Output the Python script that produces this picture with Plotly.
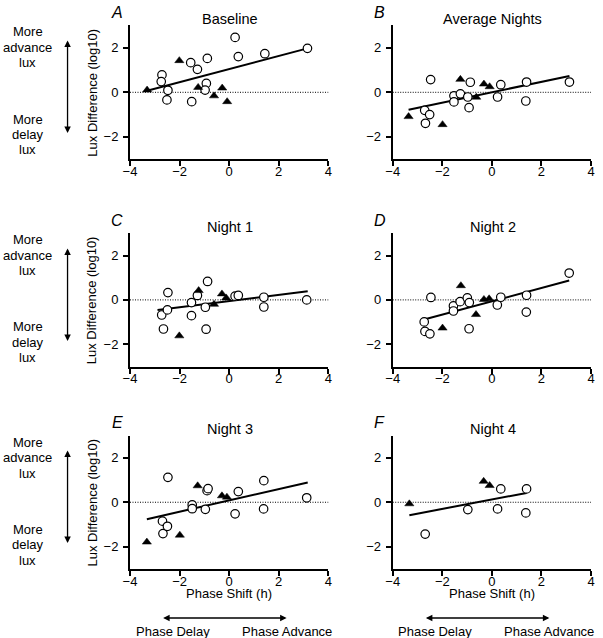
import plotly.graph_objects as go

# ---------------- data ----------------
panel_titles = ["Baseline", "Average Nights", "Night 1", "Night 2", "Night 3", "Night 4"]
panel_letters = ["A", "B", "C", "D", "E", "F"]

x_ticks = [-4, -2, 0, 2, 4]
y_ticks = [-2, 0, 2]

# Panel A - Baseline
a_circ_x = [-2.71, -2.74, -2.47, -2.51, -1.55, -1.28, -1.51, -0.88, -0.92, -0.97, 0.24, 0.37, 1.44, 3.16]
a_circ_y = [0.78, 0.48, 0.09, -0.34, 1.33, 1.03, -0.42, 1.52, 0.40, 0.10, 2.46, 1.60, 1.73, 1.97]
a_tri_x = [-3.31, -2.01, -1.25, -0.61, -0.28, -0.08]
a_tri_y = [0.10, 1.42, 0.22, -0.16, 0.19, -0.42]
a_fit_x = [-3.31, 3.16]
a_fit_y = [0.07, 1.97]

# Panel B - Average Nights
b_circ_x = [-2.47, -2.71, -2.51, -2.68, -1.53, -1.53, -1.27, -0.87, -0.97, -0.92, 0.23, 0.36, 1.40, 1.37, 3.13]
b_circ_y = [0.57, -0.81, -1.00, -1.39, -0.16, -0.43, -0.07, 0.45, -0.21, -0.69, -0.21, 0.34, 0.46, -0.39, 0.46]
b_tri_x = [-3.36, -1.99, -1.27, -0.63, -0.32, -0.09]
b_tri_y = [-1.09, -1.45, 0.58, -0.22, 0.37, 0.25]
b_fit_x = [-3.36, 3.13]
b_fit_y = [-0.78, 0.73]

# Panel C - Night 1
c_circ_x = [-2.72, -2.65, -2.49, -2.47, -1.52, -1.52, -1.28, -0.96, -0.93, -0.87, 0.24, 0.37, 1.40, 1.40, 3.13]
c_circ_y = [-0.68, -1.31, -0.45, 0.33, -0.12, -0.71, 0.20, -0.33, -1.32, 0.83, 0.17, 0.20, 0.12, -0.32, 0.00]
c_tri_x = [-2.01, -1.23, -0.61, -0.29, -0.12]
c_tri_y = [-1.62, 0.42, -0.20, 0.27, 0.09]
c_fit_x = [-2.89, 3.17]
c_fit_y = [-0.45, 0.39]

# Panel D - Night 2
d_circ_x = [-2.73, -2.70, -2.50, -2.46, -1.55, -1.55, -1.28, -0.99, -0.91, -0.92, 0.22, 0.36, 1.40, 1.39, 3.12]
d_circ_y = [-0.99, -1.42, -1.53, 0.11, -0.27, -0.50, -0.08, 0.09, -0.12, -1.30, -0.23, 0.12, 0.21, -0.55, 1.21]
d_tri_x = [-1.99, -1.25, -0.64, -0.32, -0.11]
d_tri_y = [-1.27, 0.64, -0.66, 0.02, 0.05]
d_fit_x = [-2.70, 3.12]
d_fit_y = [-0.87, 0.87]

# Panel E - Night 3
e_circ_x = [-2.69, -2.67, -2.49, -2.47, -1.49, -1.49, -0.96, -0.89, -0.85, 0.24, 0.37, 1.40, 1.39, 3.13]
e_circ_y = [-0.85, -1.41, -1.08, 1.12, -0.12, -0.29, -0.32, 0.52, 0.61, -0.52, 0.48, 0.97, -0.30, 0.20]
e_tri_x = [-3.32, -1.99, -1.27, -0.29, -0.09]
e_tri_y = [-1.79, -1.48, 0.74, 0.29, 0.23]
e_fit_x = [-3.32, 3.17]
e_fit_y = [-0.76, 0.89]

# Panel F - Night 4
f_circ_x = [-2.69, -0.97, 0.23, 0.36, 1.40, 1.37]
f_circ_y = [-1.43, -0.33, -0.30, 0.60, 0.60, -0.48]
f_tri_x = [-3.33, -0.33, -0.09]
f_tri_y = [-0.07, 0.94, 0.75]
f_fit_x = [-3.33, 1.40]
f_fit_y = [-0.58, 0.42]

panels = [
    (a_circ_x, a_circ_y, a_tri_x, a_tri_y, a_fit_x, a_fit_y),
    (b_circ_x, b_circ_y, b_tri_x, b_tri_y, b_fit_x, b_fit_y),
    (c_circ_x, c_circ_y, c_tri_x, c_tri_y, c_fit_x, c_fit_y),
    (d_circ_x, d_circ_y, d_tri_x, d_tri_y, d_fit_x, d_fit_y),
    (e_circ_x, e_circ_y, e_tri_x, e_tri_y, e_fit_x, e_fit_y),
    (f_circ_x, f_circ_y, f_tri_x, f_tri_y, f_fit_x, f_fit_y),
]

# ---------------- layout helpers ----------------
W, H = 603, 638
ML, MR, MT, MB = 130, 8, 25, 69
PW = W - ML - MR
PH = H - MT - MB
FONT = "Arial, Liberation Sans, Helvetica, sans-serif"


def px(x):
    return (x - ML) / PW


def py(y):
    return (H - MB - y) / PH


col_px = [(130, 330), (395, 595)]
row_px = [(25.4, 159.2), (233.3, 366.5), (435.5, 569.0)]

fig = go.Figure()
annotations = []
shapes = []


def text_ann(text, x, y, size=13, angle=0):
    return dict(text=text, x=px(x), y=py(y), xref="paper", yref="paper", showarrow=False,
                xanchor="center", yanchor="middle", align="center", textangle=angle,
                font=dict(family=FONT, size=size, color="black"))


for i, (cx, cy, tx, ty, fx, fy) in enumerate(panels):
    r, c = divmod(i, 2)
    n = i + 1
    xa = "x" if n == 1 else f"x{n}"
    ya = "y" if n == 1 else f"y{n}"
    xkey = "xaxis" if n == 1 else f"xaxis{n}"
    ykey = "yaxis" if n == 1 else f"yaxis{n}"

    fig.add_trace(go.Scatter(x=fx, y=fy, mode="lines", xaxis=xa, yaxis=ya,
                             line=dict(color="black", width=2), showlegend=False,
                             hoverinfo="skip"))
    fig.add_trace(go.Scatter(x=cx, y=cy, mode="markers", xaxis=xa, yaxis=ya,
                             marker=dict(symbol="circle", size=8.5, color="white",
                                         line=dict(color="black", width=1.2)),
                             showlegend=False))
    fig.add_trace(go.Scatter(x=tx, y=ty, mode="markers", xaxis=xa, yaxis=ya,
                             marker=dict(symbol="triangle-up", size=8, color="black",
                                         line=dict(color="black", width=0.5)),
                             showlegend=False))

    x0p, x1p = col_px[c]
    y0p, y1p = row_px[r]
    axis_common = dict(showline=True, linecolor="black", linewidth=2, mirror=False,
                       ticks="outside", ticklen=5, tickwidth=1.5, tickcolor="black",
                       showgrid=False, zeroline=False,
                       tickfont=dict(family=FONT, size=13, color="black"))
    fig.layout[xkey] = dict(domain=[px(x0p), px(x1p)], range=[-4, 4],
                            tickvals=x_ticks, anchor=ya, ticklabelstandoff=-6,
                            **axis_common)
    fig.layout[ykey] = dict(domain=[py(y1p), py(y0p)], range=[-3, 3],
                            tickvals=y_ticks, anchor=xa, ticklabelstandoff=2,
                            **axis_common)

    # dotted zero line
    shapes.append(dict(type="line", xref=f"{xa} domain", yref=ya, x0=0, x1=1, y0=0, y1=0,
                       line=dict(color="black", width=1, dash="1px,1.5px"), layer="below"))

    xc = (x0p + x1p) / 2
    annotations.append(text_ann(panel_titles[i], xc + 1, y0p - 6.5, size=14.5))
    annotations.append(text_ann(f"<i>{panel_letters[i]}</i>", x0p - 13, y0p - 13, size=16))

    if c == 0:
        yc = (y0p + y1p) / 2
        annotations.append(text_ann("Lux Difference (log10)", 92, yc, angle=-90))
        off = y0p - 25.4
        for k, word in enumerate(["More", "advance", "lux"]):
            annotations.append(text_ann(word, 27, 32 + 15.5 * k + off))
        for k, word in enumerate(["More", "delay", "lux"]):
            annotations.append(text_ann(word, 27, 119 + 15.5 * k + off))
        annotations.append(dict(text="", x=px(67), y=py(133 + off), ax=0, ay=-94,
                                xref="paper", yref="paper", axref="pixel", ayref="pixel",
                                showarrow=True, arrowhead=2, arrowside="end+start",
                                arrowsize=1, arrowwidth=1.3, arrowcolor="black",
                                standoff=0, startstandoff=0))

    if r == 2:
        annotations.append(text_ann("Phase Shift (h)", xc, 593))
        annotations.append(dict(text="", x=px(x0p + 158), y=py(618), ax=-125, ay=0,
                                xref="paper", yref="paper", axref="pixel", ayref="pixel",
                                showarrow=True, arrowhead=2,
                                arrowside="end+start", arrowsize=1, arrowwidth=1.3,
                                arrowcolor="black", standoff=0, startstandoff=0))
        annotations.append(text_ann("Phase Delay", x0p + 43, 631))
        annotations.append(text_ann("Phase Advance", x0p + 158, 631))

fig.update_layout(width=W, height=H, margin=dict(l=ML, r=MR, t=MT, b=MB, pad=0),
                  paper_bgcolor="white", plot_bgcolor="white",
                  annotations=annotations, shapes=shapes, showlegend=False,
                  font=dict(family=FONT, size=13, color="black"))

fig.write_html("out.html", config={"displayModeBar": False},
               post_script="document.body.style.margin='0';document.body.style.overflow='hidden';")
